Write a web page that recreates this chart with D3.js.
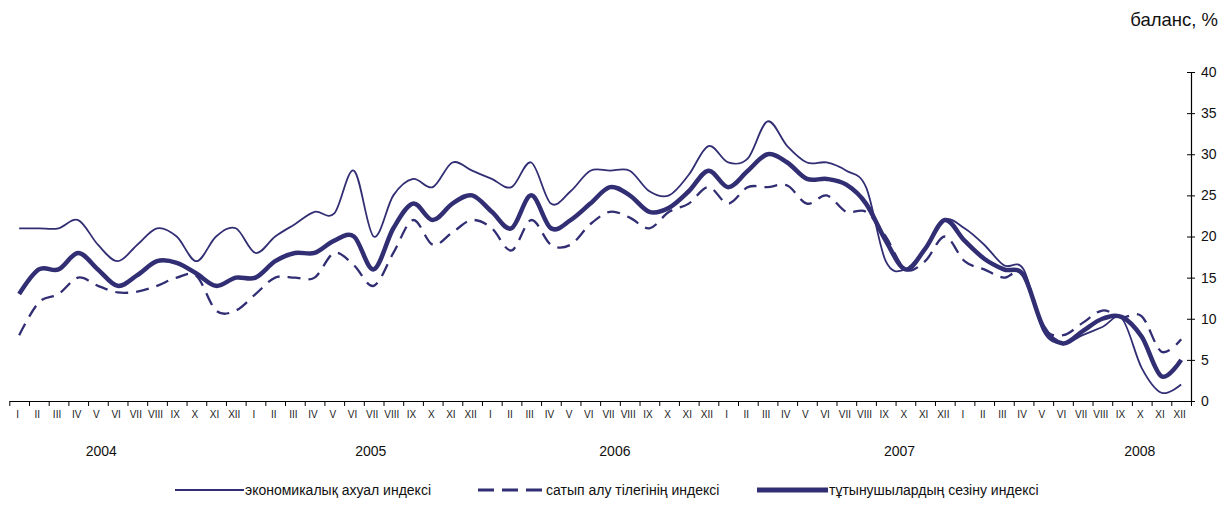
<!DOCTYPE html>
<html>
<head>
<meta charset="utf-8">
<script src="https://cdn.jsdelivr.net/npm/d3@7"></script>
<style>
  html, body { margin: 0; padding: 0; background: #fff; }
  svg { display: block; font-family: "Liberation Sans", Arial, sans-serif; }
</style>
</head>
<body>
<svg id="chart" width="1228" height="506"></svg>
<script>
// ---------- data ----------
const months = ["I","II","III","IV","V","VI","VII","VIII","IX","X","XI","XII"];
const years = ["2004","2005","2006","2007","2008"];
const yTicks = [0, 5, 10, 15, 20, 25, 30, 35, 40];
const seriesNames = ["экономикалық ахуал индексі", "сатып алу тілегінің индексі", "тұтынушылардың сезіну индексі"];

const economic = [
  21, 21, 21, 22, 19, 17, 19, 21, 20, 17, 20, 21,
  18, 20, 21.5, 23, 22.8, 28, 20, 25, 27, 26, 29, 28,
  27, 26, 29, 24, 25.5, 28, 28, 28, 25.5, 25, 27.5, 31,
  29, 29.5, 34, 31, 29, 29, 28, 26, 17, 16, 18.5, 22,
  21, 19, 16.5, 16, 8.5, 7, 8, 9, 10, 4, 1, 2
];
const purchase = [
  8, 12, 13, 15, 14, 13.2, 13.3, 14, 15, 15.2, 11, 11,
  13, 15, 15, 15, 18, 16.5, 14, 18, 22, 19, 20.5, 22,
  21, 18.3, 22, 19, 19, 21.5, 23, 22.3, 21, 23, 24, 26,
  24, 26, 26, 26.2, 24, 25, 23, 23, 20, 16, 17, 20,
  17, 16, 15, 15.5, 9, 8, 9.5, 11, 10.2, 10.3, 6, 7.5
];
const sentiment = [
  13, 16, 16, 18, 16, 14, 15.3, 17, 16.8, 15.5, 14, 15,
  15, 17, 18, 18, 19.5, 20, 16, 21, 24, 22, 24, 25,
  23, 21, 25, 21, 22, 24, 26, 25, 23, 23.5, 25.5, 28,
  26, 28, 30, 29, 27, 27, 26.3, 24, 19.5, 16, 18.5, 22,
  19.5, 17.3, 16, 15.3, 9, 7, 8.5, 10, 10.2, 7.8, 3, 5
];
// year label centres, in month units (layout only)
const yearLabelAt = [4.67, 18.35, 30.75, 45.2, 57.4];

// ---------- layout ----------
const svg = d3.select("#chart");
const color = "#312e74";
const plotL = 9.3, plotR = 1191, plotT = 72, plotB = 401;

const n = months.length * years.length;
const idx = d3.range(n);
const x = d3.scaleBand().domain(idx).range([plotL, plotR]).paddingInner(0).paddingOuter(0);
const xl = d3.scaleLinear().domain([0, n]).range([plotL, plotR]);
const y = d3.scaleLinear().domain([0, 40]).range([plotB, plotT]);

// x axis: tick marks at band boundaries
const gx = svg.append("g").attr("transform", `translate(0,${plotB})`)
  .call(d3.axisBottom(xl).tickValues(d3.range(n + 1)).tickSize(5).tickSizeOuter(0).tickFormat(""));
gx.select(".domain").attr("stroke", "#000").attr("stroke-width", 1.2);
gx.selectAll(".tick line").attr("stroke", "#000").attr("stroke-width", 1);

// month labels
svg.append("g").selectAll("text").data(idx).join("text")
  .attr("x", d => x(d) + x.bandwidth() / 2 - 1.5)
  .attr("y", 418)
  .attr("text-anchor", "middle")
  .attr("font-size", 10)
  .attr("fill", "#222")
  .text(d => months[d % 12]);

// year labels
svg.append("g").selectAll("text").data(years).join("text")
  .attr("x", (d, i) => xl(yearLabelAt[i]))
  .attr("y", 456)
  .attr("text-anchor", "middle")
  .attr("font-size", 14)
  .attr("fill", "#111")
  .text(d => d);

// y axis on right
const gy = svg.append("g").attr("transform", `translate(${plotR},0)`)
  .call(d3.axisRight(y).tickValues(yTicks).tickSize(4).tickSizeOuter(0).tickPadding(6));
gy.select(".domain").attr("stroke", "#000").attr("stroke-width", 1.2);
gy.selectAll(".tick line").attr("x1", -4).attr("x2", 4).attr("stroke", "#000");
gy.selectAll(".tick text").attr("font-size", 14).attr("fill", "#111")
  .attr("font-family", "'Liberation Sans', Arial, sans-serif");

// axis title
svg.append("text").attr("x", 1218).attr("y", 26).attr("text-anchor", "end")
  .attr("font-size", 18.5).attr("fill", "#111").text("баланс, %");

// ---------- lines ----------
const line = d3.line()
  .x((d, i) => x(i) + x.bandwidth() / 2)
  .y(d => y(d))
  .curve(d3.curveCardinal.tension(0));

svg.append("path").datum(purchase).attr("d", line)
  .attr("fill", "none").attr("stroke", color).attr("stroke-width", 2.3)
  .attr("stroke-dasharray", "13,8");
svg.append("path").datum(economic).attr("d", line)
  .attr("fill", "none").attr("stroke", color).attr("stroke-width", 1.8);
svg.append("path").datum(sentiment).attr("d", line)
  .attr("fill", "none").attr("stroke", color).attr("stroke-width", 4.5)
  .attr("stroke-linejoin", "round");

// ---------- legend ----------
const legendItems = [
  { name: seriesNames[0], x0: 175, x1: 244, w: 1.8, dash: null },
  { name: seriesNames[1], x0: 478, x1: 545, w: 3, dash: "16,8" },
  { name: seriesNames[2], x0: 757, x1: 828, w: 5, dash: null }
];
const lg = svg.append("g");
legendItems.forEach(it => {
  lg.append("line").attr("x1", it.x0).attr("x2", it.x1).attr("y1", 490).attr("y2", 490)
    .attr("stroke", color).attr("stroke-width", it.w)
    .attr("stroke-dasharray", it.dash);
  lg.append("text").attr("x", it.x1 + 1).attr("y", 495)
    .attr("font-size", 14).attr("fill", "#111").text(it.name);
});
</script>
</body>
</html>
